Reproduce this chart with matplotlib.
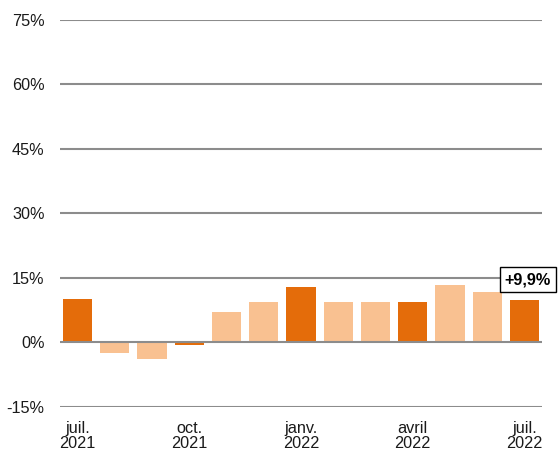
import matplotlib
matplotlib.use("Agg")
import matplotlib.pyplot as plt

# monthly change, juil. 2021 -> juil. 2022
months = ["juil.\n2021", "", "", "oct.\n2021", "", "", "janv.\n2022", "", "",
          "avril\n2022", "", "", "juil.\n2022"]
values = [10.2, -2.5, -3.9, -0.5, 7.0, 9.5, 13.0, 9.5, 9.3, 9.3, 13.3, 11.8, 9.9]
quarter = [True, False, False, True, False, False, True, False, False,
           True, False, False, True]
yticks = [-15, 0, 15, 30, 45, 60, 75]
last_label = "+9,9%"

DARK = "#E46C0A"
LIGHT = "#F9C191"
GRID = "#8C8C8C"

plt.rcParams["font.family"] = ["Liberation Sans", "DejaVu Sans"]

fig = plt.figure(figsize=(5.58, 4.5), dpi=100)
ax = fig.add_axes([0.1075, 0.0956, 0.8638, 0.86])

x = list(range(len(values)))
colors = [DARK if q else LIGHT for q in quarter]
ax.bar(x, values, width=0.78, color=colors, zorder=2)

for t in yticks:
    ax.axhline(t, color=GRID, linewidth=1.5, zorder=1 if t != 0 else 3)

ax.set_xlim(-0.47, len(values) - 1 + 0.47)
ax.set_ylim(-15, 75)
ax.set_yticks(yticks)
ax.set_yticklabels([f"{t}%" for t in yticks], fontsize=11.7, color="#1a1a1a")
ax.set_xticks(x)
ax.set_xticklabels(months, fontsize=11.7, color="#1a1a1a", linespacing=1.0)
ax.tick_params(axis="both", length=0)
ax.tick_params(axis="y", pad=11)
ax.tick_params(axis="x", pad=10)
for s in ax.spines.values():
    s.set_visible(False)

# value box on the last bar
ax.annotate(last_label, xy=(x[-1], values[-1]), xytext=(2.5, 14.5),
            textcoords="offset points", ha="center", va="center",
            fontsize=11.7, fontweight="bold", zorder=5,
            bbox=dict(boxstyle="square,pad=0.3", fc="white", ec="black", lw=1))

fig.savefig("out.png", dpi=100)
